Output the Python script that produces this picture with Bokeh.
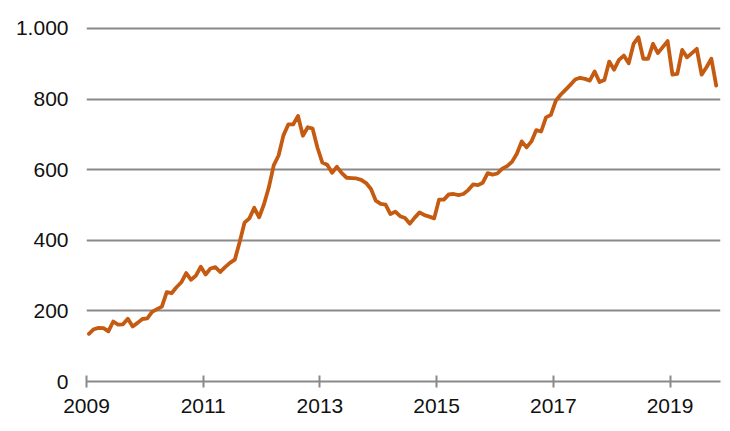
from bokeh.plotting import figure
from bokeh.models import Range1d, FixedTicker, ColumnDataSource
from bokeh.embed import file_html
from bokeh.resources import INLINE

# ---- data (monthly values, Jan 2009 onward) ----
start_year = 2009
values = [
    135, 148, 152, 151, 142, 170, 161, 162, 178, 156,
    166, 177, 179, 197, 205, 212, 253, 250, 267, 281,
    307, 288, 300, 325, 303, 320, 324, 310, 324, 336,
    345, 395, 450, 462, 492, 465, 502, 550, 612, 640,
    697, 728, 728, 752, 696, 720, 716, 662, 620, 614,
    591, 608, 590, 577, 576, 575, 571, 562, 545, 512,
    503, 501, 474, 481, 468, 463, 447, 464, 479, 471,
    467, 462, 515, 515, 530, 531, 528, 531, 542, 558,
    556, 563, 590, 586, 589, 603, 610, 622, 645, 680,
    663, 680, 712, 708, 748, 755, 795, 812, 826, 840,
    855, 860, 857, 852, 878, 848, 854, 906, 883, 911,
    923, 901, 956, 975, 914, 914, 956, 930, 947, 964,
    869, 871, 939, 918, 930, 942, 869, 890, 914, 838,
]
x_ticks = [2009, 2011, 2013, 2015, 2017, 2019]
x_tick_labels = ["2009", "2011", "2013", "2015", "2017", "2019"]
y_ticks = [0, 200, 400, 600, 800, 1000]
y_tick_labels = ["0", "200", "400", "600", "800", "1.000"]

dates = [start_year + (i + 0.5) / 12 for i in range(len(values))]
src = ColumnDataSource(data=dict(x=dates, y=values))

LINE = "#C55A11"
GRID = "#898989"
TXT = "#111111"
FONT = "Liberation Sans"

p = figure(width=728, height=423, output_backend="svg", toolbar_location=None,
           x_range=Range1d(2009, 2019.865), y_range=Range1d(0, 1028),
           min_border_left=86, min_border_right=8, min_border_top=18, min_border_bottom=42)
p.outline_line_color = None
p.background_fill_color = "white"
p.border_fill_color = "white"

p.line("x", "y", source=src, line_color=LINE, line_width=3.8,
       line_join="round", line_cap="round")

# grid
p.xgrid.grid_line_color = None
p.ygrid.ticker = FixedTicker(ticks=y_ticks)
p.ygrid.grid_line_color = GRID
p.ygrid.grid_line_width = 2

# y axis
p.yaxis.ticker = FixedTicker(ticks=y_ticks)
p.yaxis.major_label_overrides = {t: l for t, l in zip(y_ticks, y_tick_labels)}
p.yaxis.axis_line_color = None
p.yaxis.major_tick_line_color = None
p.yaxis.minor_tick_line_color = None
p.yaxis.major_tick_out = 0
p.yaxis.major_tick_in = 0
p.yaxis.major_label_standoff = 18
p.yaxis.major_label_text_font = FONT
p.yaxis.major_label_text_font_size = "21px"
p.yaxis.major_label_text_color = TXT

# x axis
p.xaxis.ticker = FixedTicker(ticks=x_ticks)
p.xaxis.major_label_overrides = {t: l for t, l in zip(x_ticks, x_tick_labels)}
p.xaxis.axis_line_color = GRID
p.xaxis.axis_line_width = 2
p.xaxis.major_tick_line_color = GRID
p.xaxis.major_tick_line_width = 2
p.xaxis.major_tick_out = 6
p.xaxis.major_tick_in = 6
p.xaxis.minor_tick_line_color = None
p.xaxis.major_label_standoff = 11
p.xaxis.major_label_text_font = FONT
p.xaxis.major_label_text_font_size = "21px"
p.xaxis.major_label_text_color = TXT

open("out.html", "w").write(file_html(p, INLINE))
